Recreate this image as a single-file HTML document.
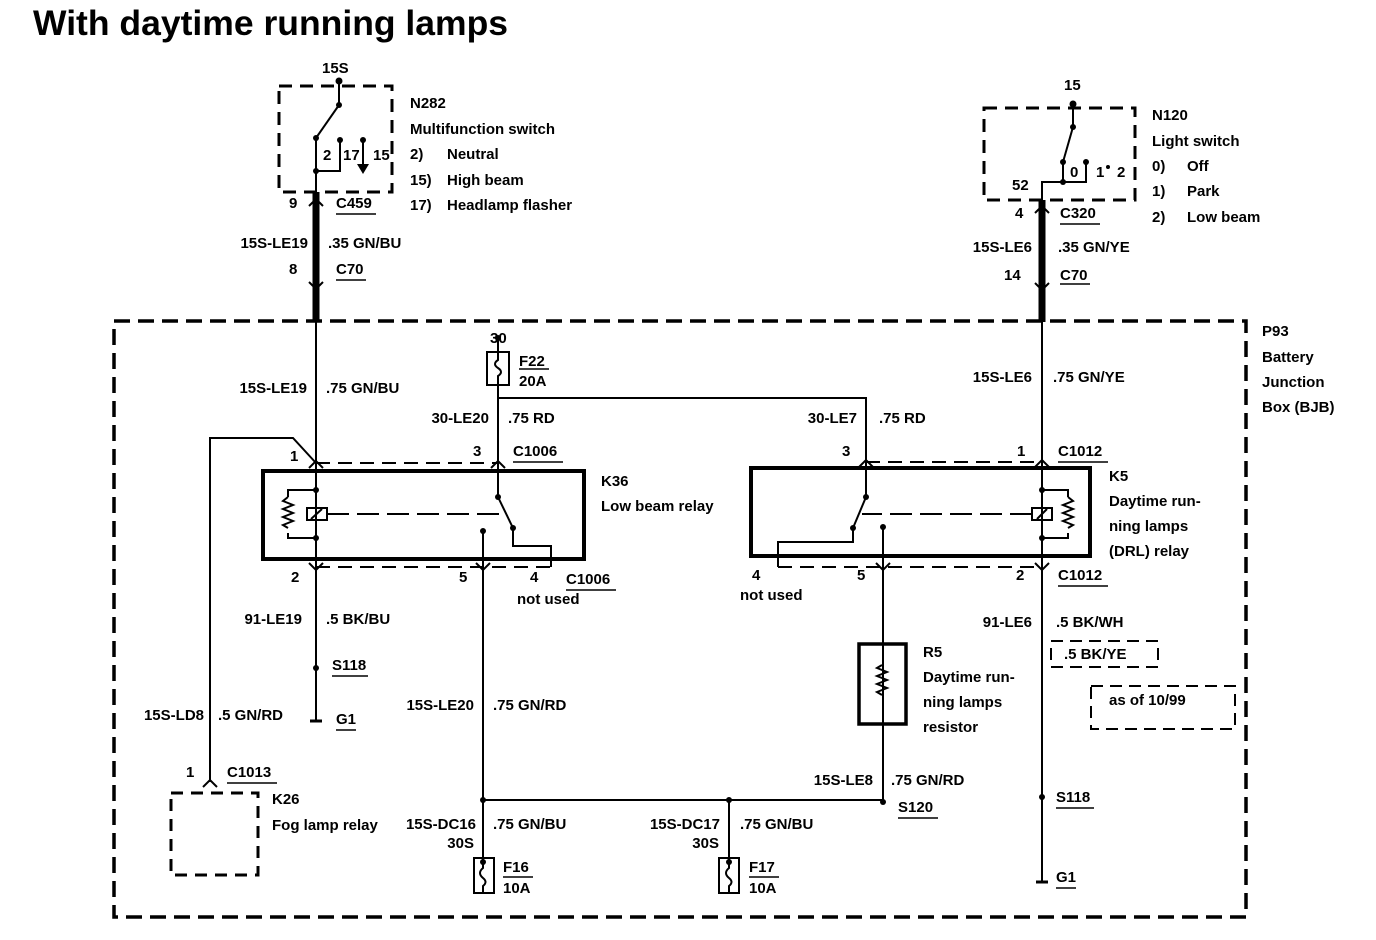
<!DOCTYPE html>
<html><head><meta charset="utf-8"><style>
html,body{margin:0;padding:0;background:#fff;}
svg{display:block;}
text{font-family:"Liberation Sans",sans-serif;font-weight:bold;font-size:15px;fill:#000;}
.r{text-anchor:end;}
</style></head><body>
<svg width="1376" height="940" viewBox="0 0 1376 940" xmlns="http://www.w3.org/2000/svg">
<g stroke="#000" fill="none" stroke-width="2">
<rect x="114" y="321" width="1132" height="596" stroke-width="3.5" stroke-dasharray="16,8"/>
<rect x="279" y="86" width="113" height="106" stroke-width="3" stroke-dasharray="13,8"/>
<line x1="339" y1="80" x2="339" y2="105"/>
<line x1="339" y1="105" x2="316" y2="138"/>
<polyline points="316,138 316,171"/>
<polyline points="340,140 340,171 316,171"/>
<line x1="363" y1="140" x2="363" y2="166"/>
<line x1="316" y1="171" x2="316" y2="200"/>
<line x1="316" y1="192" x2="316" y2="320" stroke-width="7"/>
<line x1="316" y1="320" x2="316" y2="720"/>
<rect x="984" y="108" width="151" height="92" stroke-width="3" stroke-dasharray="13,8"/>
<line x1="1073" y1="102" x2="1073" y2="127"/>
<line x1="1073" y1="127" x2="1063" y2="162"/>
<line x1="1063" y1="162" x2="1063" y2="182"/>
<polyline points="1086,162 1086,182 1063,182"/>
<polyline points="1063,182 1042,182 1042,205"/>
<line x1="1042" y1="200" x2="1042" y2="322" stroke-width="7"/>
<line x1="1042" y1="320" x2="1042" y2="882"/>
<line x1="498" y1="338" x2="498" y2="352"/>
<rect x="487" y="352" width="22" height="33"/>
<path d="M498,352 v8 q-6,4 0,8 q6,4 0,8 v9"/>
<polyline points="498,385 498,398 866,398 866,497"/>
<line x1="498" y1="398" x2="498" y2="497"/>
<rect x="263" y="471" width="321" height="88" stroke-width="4"/>
<line x1="316" y1="463" x2="498" y2="463" stroke-dasharray="14,8"/>
<line x1="316" y1="567" x2="552" y2="567" stroke-dasharray="14,8"/>
<polyline points="316,490 288,490 288,497"/>
<path d="M288,497 l-5,4 l10,4 l-10,4 l10,4 l-10,4 l10,4 l-10,4 l5,3"/>
<polyline points="288,533 288,538 316,538"/>
<rect x="307" y="508" width="20" height="12"/>
<line x1="311" y1="519" x2="322" y2="509"/>
<line x1="327" y1="514" x2="505" y2="514" stroke-dasharray="22,8"/>
<line x1="498" y1="497" x2="513" y2="528"/>
<polyline points="513,528 513,546 551,546 551,567"/>
<line x1="483" y1="531" x2="483" y2="862"/>
<polyline points="316,463 293,438 210,438 210,782"/>
<rect x="171" y="793" width="87" height="82" stroke-width="3" stroke-dasharray="12,8"/>
<rect x="751" y="468" width="339" height="88" stroke-width="4"/>
<line x1="866" y1="462" x2="1042" y2="462" stroke-dasharray="14,8"/>
<line x1="778" y1="567" x2="1042" y2="567" stroke-dasharray="14,8"/>
<polyline points="1042,490 1068,490 1068,497"/>
<path d="M1068,497 l5,4 l-10,4 l10,4 l-10,4 l10,4 l-10,4 l10,4 l-5,3"/>
<polyline points="1068,533 1068,538 1042,538"/>
<rect x="1032" y="508" width="20" height="12"/>
<line x1="1037" y1="519" x2="1047" y2="509"/>
<line x1="1032" y1="514" x2="862" y2="514" stroke-dasharray="22,8"/>
<line x1="866" y1="497" x2="853" y2="528"/>
<polyline points="853,528 853,542 778,542 778,567"/>
<line x1="883" y1="527" x2="883" y2="802"/>
<rect x="859" y="644" width="47" height="80" stroke-width="3.5"/>
<path d="M882,665 l-5,3 l10,4 l-10,4 l10,4 l-10,4 l10,4 l-10,4 l5,3"/>
<line x1="483" y1="800" x2="883" y2="800"/>
<line x1="729" y1="800" x2="729" y2="862"/>
<rect x="474" y="858" width="20" height="35"/>
<path d="M483,862 v6 q-6,5 0,10 q5,4 0,8 v7"/>
<rect x="719" y="858" width="20" height="35"/>
<path d="M729,862 v6 q-6,5 0,10 q5,4 0,8 v7"/>
<rect x="1051" y="641" width="107" height="26" stroke-dasharray="12,7"/>
<rect x="1091" y="686" width="144" height="43" stroke-dasharray="12,7"/>
<line x1="310" y1="721" x2="322" y2="721" stroke-width="3"/>
<line x1="1036" y1="882" x2="1048" y2="882" stroke-width="3"/>
<polyline points="309,206 316,199 323,206"/>
<polyline points="309,282 316,289 323,282"/>
<polyline points="1035,213 1042,206 1049,213"/>
<polyline points="1035,283 1042,290 1049,283"/>
<polyline points="309,468 316,461 323,468"/>
<polyline points="491,468 498,461 505,468"/>
<polyline points="309,563 316,570 323,563"/>
<polyline points="476,563 483,570 490,563"/>
<polyline points="203,787 210,780 217,787"/>
<polyline points="859,467 866,460 873,467"/>
<polyline points="1035,467 1042,460 1049,467"/>
<polyline points="876,563 883,570 890,563"/>
<polyline points="1035,563 1042,570 1049,563"/>
<g stroke-width="1.5">
<line x1="336" y1="214" x2="376" y2="214"/>
<line x1="336" y1="280" x2="366" y2="280"/>
<line x1="1060" y1="224" x2="1100" y2="224"/>
<line x1="1060" y1="284" x2="1090" y2="284"/>
<line x1="519" y1="369" x2="549" y2="369"/>
<line x1="513" y1="462" x2="563" y2="462"/>
<line x1="566" y1="590" x2="616" y2="590"/>
<line x1="1058" y1="462" x2="1108" y2="462"/>
<line x1="1058" y1="586" x2="1108" y2="586"/>
<line x1="332" y1="676" x2="368" y2="676"/>
<line x1="336" y1="730" x2="356" y2="730"/>
<line x1="227" y1="783" x2="277" y2="783"/>
<line x1="503" y1="877" x2="533" y2="877"/>
<line x1="749" y1="877" x2="779" y2="877"/>
<line x1="898" y1="818" x2="938" y2="818"/>
<line x1="1056" y1="808" x2="1094" y2="808"/>
<line x1="1056" y1="888" x2="1076" y2="888"/>
</g>
</g>
<g fill="#000">
<circle cx="339" cy="81" r="3.5"/><circle cx="339" cy="105" r="3"/><circle cx="316" cy="138" r="3"/>
<circle cx="340" cy="140" r="3"/><circle cx="363" cy="140" r="3"/><circle cx="316" cy="171" r="3"/>
<path d="M357,164 h12 l-6,10 z"/>
<circle cx="1073" cy="104" r="3.5"/><circle cx="1073" cy="127" r="3"/><circle cx="1063" cy="162" r="3"/>
<circle cx="1086" cy="162" r="3"/><circle cx="1063" cy="182" r="3"/><circle cx="1108" cy="167" r="2"/>
<circle cx="498" cy="338" r="3"/>
<circle cx="316" cy="490" r="3"/><circle cx="316" cy="538" r="3"/><circle cx="498" cy="497" r="3"/><circle cx="513" cy="528" r="3"/><circle cx="483" cy="531" r="3"/>
<circle cx="1042" cy="490" r="3"/><circle cx="1042" cy="538" r="3"/><circle cx="866" cy="497" r="3"/><circle cx="853" cy="528" r="3"/><circle cx="883" cy="527" r="3"/>
<circle cx="316" cy="668" r="3"/><circle cx="1042" cy="797" r="3"/>
<circle cx="483" cy="800" r="3"/><circle cx="729" cy="800" r="3"/><circle cx="883" cy="802" r="3"/>
<circle cx="483" cy="862" r="3"/><circle cx="729" cy="862" r="3"/>
</g>
<text x="33" y="35" style="font-size:35.5px">With daytime running lamps</text>
<text x="322" y="73">15S</text>
<text x="323" y="160">2</text><text x="343" y="160">17</text><text x="373" y="160">15</text>
<text x="410" y="108">N282</text><text x="410" y="134">Multifunction switch</text>
<text x="410" y="159">2)</text><text x="447" y="159">Neutral</text>
<text x="410" y="185">15)</text><text x="447" y="185">High beam</text>
<text x="410" y="210">17)</text><text x="447" y="210">Headlamp flasher</text>
<text x="289" y="208">9</text><text x="336" y="208">C459</text>
<text class="r" x="308" y="248">15S-LE19</text><text x="328" y="248">.35 GN/BU</text>
<text x="289" y="274">8</text><text x="336" y="274">C70</text>
<text x="1064" y="90">15</text>
<text x="1070" y="177">0</text><text x="1096" y="177">1</text><text x="1117" y="177">2</text>
<text x="1012" y="190">52</text>
<text x="1152" y="120">N120</text><text x="1152" y="146">Light switch</text>
<text x="1152" y="171">0)</text><text x="1187" y="171">Off</text>
<text x="1152" y="196">1)</text><text x="1187" y="196">Park</text>
<text x="1152" y="222">2)</text><text x="1187" y="222">Low beam</text>
<text x="1015" y="218">4</text><text x="1060" y="218">C320</text>
<text class="r" x="1032" y="252">15S-LE6</text><text x="1058" y="252">.35 GN/YE</text>
<text x="1004" y="280">14</text><text x="1060" y="280">C70</text>
<text x="1262" y="336">P93</text><text x="1262" y="362">Battery</text><text x="1262" y="387">Junction</text><text x="1262" y="412">Box (BJB)</text>
<text x="490" y="343">30</text><text x="519" y="366">F22</text><text x="519" y="386">20A</text>
<text class="r" x="307" y="393">15S-LE19</text><text x="326" y="393">.75 GN/BU</text>
<text class="r" x="489" y="423">30-LE20</text><text x="508" y="423">.75 RD</text>
<text class="r" x="857" y="423">30-LE7</text><text x="879" y="423">.75 RD</text>
<text class="r" x="1032" y="382">15S-LE6</text><text x="1053" y="382">.75 GN/YE</text>
<text x="290" y="461">1</text><text x="473" y="456">3</text><text x="513" y="456">C1006</text>
<text x="601" y="486">K36</text><text x="601" y="511">Low beam relay</text>
<text x="291" y="582">2</text><text x="459" y="582">5</text><text x="530" y="582">4</text><text x="566" y="584">C1006</text>
<text x="517" y="604">not used</text>
<text x="842" y="456">3</text><text x="1017" y="456">1</text><text x="1058" y="456">C1012</text>
<text x="1109" y="481">K5</text><text x="1109" y="506">Daytime run-</text><text x="1109" y="531">ning lamps</text><text x="1109" y="556">(DRL) relay</text>
<text x="752" y="580">4</text><text x="740" y="600">not used</text><text x="857" y="580">5</text><text x="1016" y="580">2</text><text x="1058" y="580">C1012</text>
<text class="r" x="302" y="624">91-LE19</text><text x="326" y="624">.5 BK/BU</text>
<text x="332" y="670">S118</text><text x="336" y="724">G1</text>
<text class="r" x="204" y="720">15S-LD8</text><text x="218" y="720">.5 GN/RD</text>
<text x="186" y="777">1</text><text x="227" y="777">C1013</text>
<text x="272" y="804">K26</text><text x="272" y="830">Fog lamp relay</text>
<text class="r" x="474" y="710">15S-LE20</text><text x="493" y="710">.75 GN/RD</text>
<text x="923" y="657">R5</text><text x="923" y="682">Daytime run-</text><text x="923" y="707">ning lamps</text><text x="923" y="732">resistor</text>
<text class="r" x="873" y="785">15S-LE8</text><text x="891" y="785">.75 GN/RD</text><text x="898" y="812">S120</text>
<text class="r" x="476" y="829">15S-DC16</text><text x="493" y="829">.75 GN/BU</text><text class="r" x="474" y="848">30S</text>
<text x="503" y="872">F16</text><text x="503" y="893">10A</text>
<text class="r" x="720" y="829">15S-DC17</text><text x="740" y="829">.75 GN/BU</text><text class="r" x="719" y="848">30S</text>
<text x="749" y="872">F17</text><text x="749" y="893">10A</text>
<text class="r" x="1032" y="627">91-LE6</text><text x="1056" y="627">.5 BK/WH</text>
<text x="1064" y="659">.5 BK/YE</text><text x="1109" y="705">as of 10/99</text>
<text x="1056" y="802">S118</text><text x="1056" y="882">G1</text>
</svg>
</body></html>
